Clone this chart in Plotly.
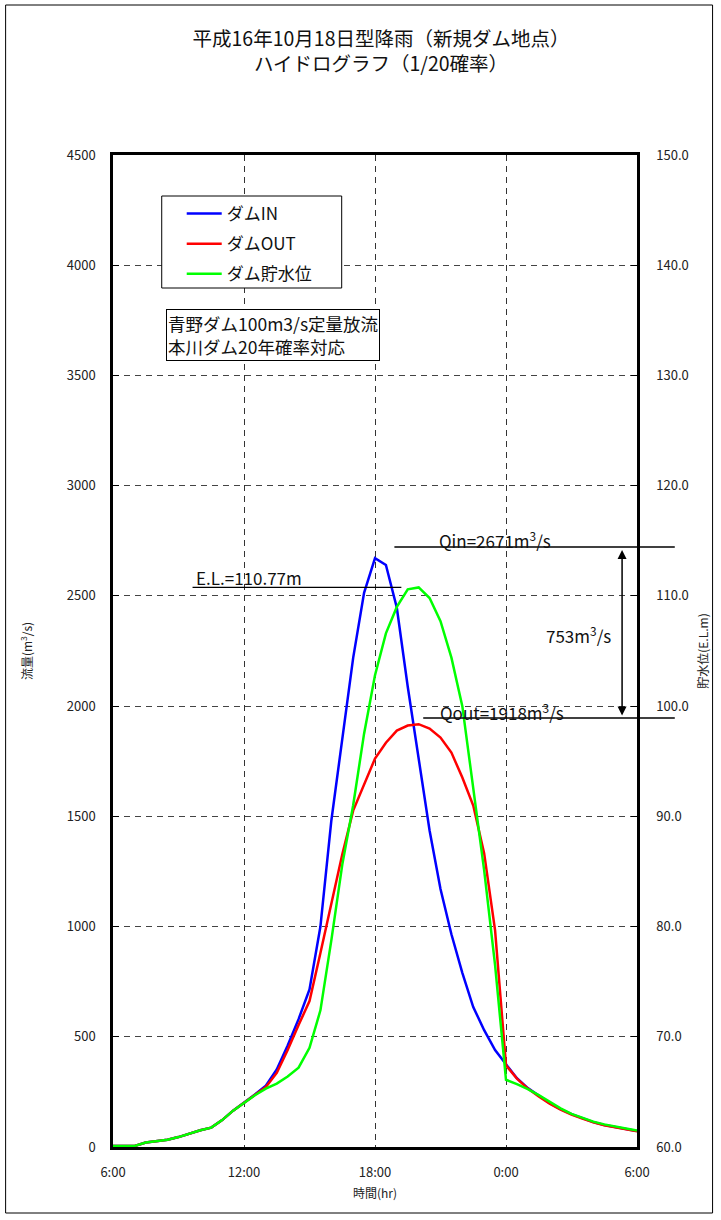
import plotly.graph_objects as go

# time grid: hours after 6:00 (half-hour steps)
hours = [i * 0.5 for i in range(49)]
x_tick_vals = [0, 6, 12, 18, 24]
x_tick_text = ["6:00", "12:00", "18:00", "0:00", "6:00"]

dam_in = [5, 5, 5, 20, 27, 33, 45, 62, 76, 88, 122, 165, 200, 238, 278, 352, 460, 580,
          715, 1000, 1480, 1860, 2219, 2514, 2671, 2640, 2446, 2088, 1753, 1436, 1170, 965,
          790, 635, 530, 440, 375, 312, 267, 231, 199, 172, 149, 131, 113, 100, 91, 82, 72]

dam_out = [5, 5, 5, 20, 27, 33, 45, 62, 76, 88, 122, 165, 200, 236, 272, 336, 440, 553,
           662, 880, 1100, 1327, 1526, 1640, 1762, 1834, 1889, 1912, 1918, 1898, 1857, 1789,
           1676, 1549, 1332, 983, 371, 310, 265, 229, 197, 170, 147, 129, 112, 99, 90, 81, 71]

dam_level = [60.1, 60.1, 60.1, 60.4, 60.54, 60.66, 60.9, 61.24, 61.52, 61.76, 62.44, 63.3,
             64.0, 64.7, 65.3, 65.75, 66.4, 67.2, 69.0, 72.4, 78.75, 85.6, 91.0, 97.5, 102.8,
             106.6, 109.0, 110.6, 110.77, 109.8, 107.7, 104.4, 100.0, 92.6, 85.1, 76.5, 66.1,
             65.7, 65.25, 64.7, 64.1, 63.5, 63.0, 62.65, 62.3, 62.05, 61.85, 61.65, 61.5]

FONT = "Noto Sans CJK JP"

fig = go.Figure()
fig.add_trace(go.Scatter(x=hours, y=dam_in, name="ダムIN", mode="lines",
                         line=dict(color="#0000FF", width=2.5), legendgroup="a"))
fig.add_trace(go.Scatter(x=hours, y=dam_out, name="ダムOUT", mode="lines",
                         line=dict(color="#FF0000", width=2.5), legendgroup="b"))
fig.add_trace(go.Scatter(x=hours, y=dam_level, name="ダム貯水位", mode="lines", yaxis="y2",
                         line=dict(color="#00FF00", width=2.5), legendgroup="c"))

L, R, T, B = 113, 81, 155, 73
W, H = 721, 1220
pw, ph = W - L - R, H - T - B


def px_x(x):
    return (x - L) / pw


def px_y(y):
    return (H - B - y) / ph


tick_font = dict(family=FONT, size=13, color="#222")
text_font = dict(family=FONT, size=17, color="#111")

fig.update_layout(
    width=W, height=H,
    margin=dict(l=L, r=R, t=T, b=B, pad=0),
    paper_bgcolor="white", plot_bgcolor="white",
    font=dict(family=FONT, color="#111"),
    title=dict(text="平成16年10月18日型降雨（新規ダム地点）<br>ハイドログラフ（1/20確率）",
               x=381 / W, xanchor="center", y=1 - 46 / H, yanchor="top", yref="container",
               font=dict(family=FONT, size=19.5, color="#111")),
    xaxis=dict(range=[0, 24], tickvals=x_tick_vals, ticktext=x_tick_text,
               showgrid=True, gridcolor="#333", gridwidth=1, griddash="6px,5px",
               showline=True, linecolor="black", linewidth=2.5, mirror=True,
               ticks="", zeroline=False, tickfont=tick_font, ticklabelstandoff=12,
               title=dict(text="時間(hr)", font=dict(family=FONT, size=12, color="#222"),
                          standoff=10)),
    yaxis=dict(range=[0, 4500], dtick=500, showgrid=True, gridcolor="#444", gridwidth=1,
               griddash="6px,5px", showline=True, linecolor="black", linewidth=2.5,
               ticks="inside", ticklen=6, tickcolor="black", zeroline=False,
               tickfont=tick_font, ticklabelstandoff=12,
               title=dict(text="流量(m<sup>3</sup>/s)", font=dict(family=FONT, size=12, color="#222"),
                          standoff=32)),
    yaxis2=dict(range=[60, 150], dtick=10, tickformat=".1f", overlaying="y", side="right",
                showgrid=False, showline=True, linecolor="black", linewidth=2.5,
                ticks="inside", ticklen=6, tickcolor="black", zeroline=False,
                tickfont=tick_font, ticklabelstandoff=14,
                title=dict(text="貯水位(E.L.m)", font=dict(family=FONT, size=12, color="#222"),
                           standoff=12)),
    legend=dict(x=px_x(162), y=px_y(196), xanchor="left", yanchor="top",
                bgcolor="rgba(0,0,0,0)", borderwidth=0,
                font=dict(family=FONT, size=17, color="#111"),
                tracegroupgap=5, indentation=20, itemwidth=35),
    showlegend=True,
)

shapes = [
    # outer frame
    dict(type="rect", xref="paper", yref="paper", x0=px_x(5), x1=px_x(716),
         y0=px_y(1213), y1=px_y(5), line=dict(color="black", width=1)),
    # legend box
    dict(type="rect", xref="paper", yref="paper", x0=px_x(162), x1=px_x(343),
         y0=px_y(288), y1=px_y(196), line=dict(color="black", width=1),
         fillcolor="white", layer="above"),
    # Qin line
    dict(type="line", xref="paper", yref="paper", x0=px_x(396), x1=px_x(678),
         y0=px_y(547), y1=px_y(547), line=dict(color="black", width=1.3)),
    # Qout line
    dict(type="line", xref="paper", yref="paper", x0=px_x(425), x1=px_x(678),
         y0=px_y(718), y1=px_y(718), line=dict(color="black", width=1.3)),
    # E.L. line
    dict(type="line", xref="paper", yref="y2", x0=px_x(193), x1=px_x(403),
         y0=110.77, y1=110.77, line=dict(color="black", width=1.3)),
]
fig.update_layout(shapes=shapes)

anns = [
    dict(text="Qin=2671m<sup>3</sup>/s", x=px_x(497), y=px_y(540)),
    dict(text="Qout=1918m<sup>3</sup>/s", x=px_x(504), y=px_y(712)),
    dict(text="753m<sup>3</sup>/s", x=px_x(581), y=px_y(635)),
    dict(text="E.L.=110.77m", x=px_x(250), y=px_y(577)),
]
for a in anns:
    fig.add_annotation(xref="paper", yref="paper", showarrow=False, font=text_font,
                       xanchor="center", yanchor="middle", **a)

fig.add_annotation(text="青野ダム100m3/s定量放流<br>本川ダム20年確率対応",
                   xref="paper", yref="paper", x=px_x(166), y=px_y(309),
                   xanchor="left", yanchor="top", align="left", showarrow=False,
                   font=dict(family=FONT, size=17.5, color="#111"),
                   bordercolor="black", borderwidth=1, borderpad=1, bgcolor="white")

# double arrow 753 m3/s
fig.add_annotation(text="", xref="paper", yref="paper", x=px_x(625), y=px_y(550),
                   ax=0, ay=167, axref="pixel", ayref="pixel",
                   showarrow=True, arrowhead=2, startarrowhead=2, arrowside="end+start",
                   arrowsize=1.2, startarrowsize=1.2, arrowwidth=1.5, arrowcolor="black",
                   standoff=0, startstandoff=0)

fig.write_html("out.html", config={"displayModeBar": False},
               post_script="document.body.style.margin='0px';document.body.style.overflow='hidden';")
